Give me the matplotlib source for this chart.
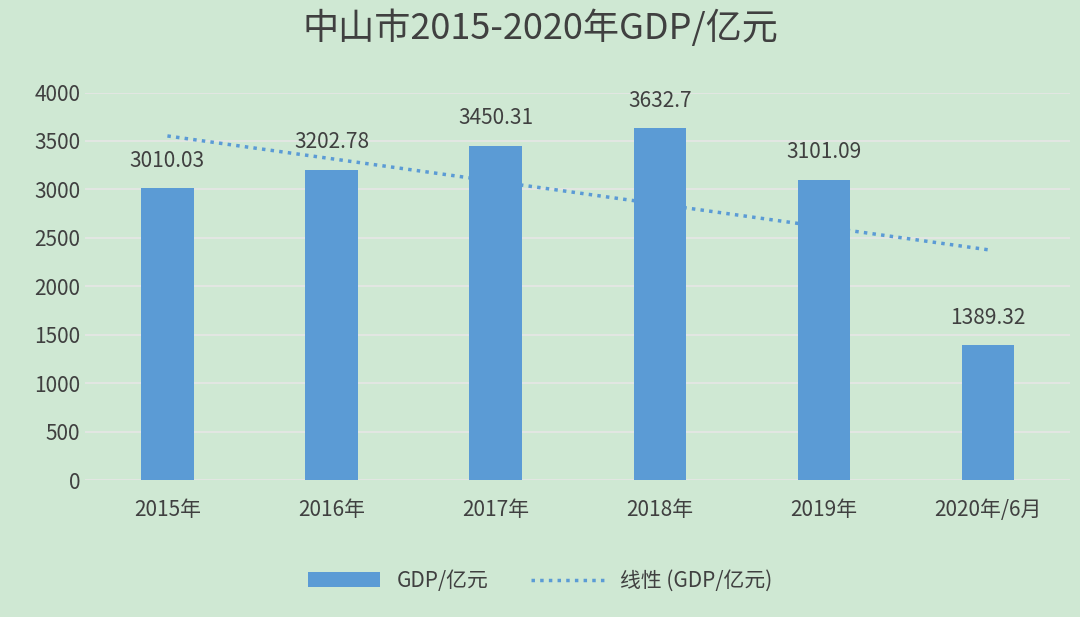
import matplotlib.pyplot as plt
from matplotlib import font_manager
import numpy as np

names = {f.name for f in font_manager.fontManager.ttflist}
cjk = [n for n in ['Noto Sans CJK SC', 'Noto Sans CJK JP', 'Noto Sans CJK TC', 'Noto Sans CJK KR'] if n in names]
plt.rcParams['font.family'] = cjk + ['DejaVu Sans']

categories = ['2015年', '2016年', '2017年', '2018年', '2019年', '2020年/6月']
gdp = [3010.03, 3202.78, 3450.31, 3632.7, 3101.09, 1389.32]
labels = ['3010.03', '3202.78', '3450.31', '3632.7', '3101.09', '1389.32']

bg = '#cfe8d3'
fig = plt.figure(figsize=(10.8, 6.17), dpi=100, facecolor=bg)
ax = fig.add_axes([0.079, 0.222, 0.912, 0.628], facecolor=bg)

x = np.arange(len(categories))
ax.bar(x, gdp, width=0.32, color='#5b9bd5', label='GDP/亿元', zorder=3)
for xi, v, t in zip(x, gdp, labels):
    ax.text(xi, v + 170, t, ha='center', va='bottom', fontsize=15, color='#404040')

# Excel-style linear trendline
k, b = np.polyfit(x, gdp, 1)
ax.plot(x, k * x + b, linestyle=(0, (1, 1.5)), color='#5b9bd5', linewidth=2.5,
        label='线性 (GDP/亿元)', zorder=4)

ax.set_ylim(0, 4000)
ax.set_xlim(-0.5, 5.5)
ax.set_yticks(range(0, 4001, 500))
ax.set_xticks(x)
ax.set_xticklabels(categories)
ax.tick_params(axis='both', length=0, labelsize=15, colors='#404040')
ax.tick_params(axis='x', pad=14)
ax.grid(axis='y', color='#e6e6e6', linewidth=1.2, zorder=0)
for s in ax.spines.values():
    s.set_visible(False)

fig.suptitle('中山市2015-2020年GDP/亿元', fontsize=26, color='#404040', y=0.985)
h, l = ax.get_legend_handles_labels()
fig.legend(h[::-1], l[::-1], loc='lower center', ncol=2, frameon=False, fontsize=15,
           bbox_to_anchor=(0.5, 0.01), labelcolor='#404040', handlelength=3.5)

fig.savefig('out.png', dpi=100, facecolor=bg)
